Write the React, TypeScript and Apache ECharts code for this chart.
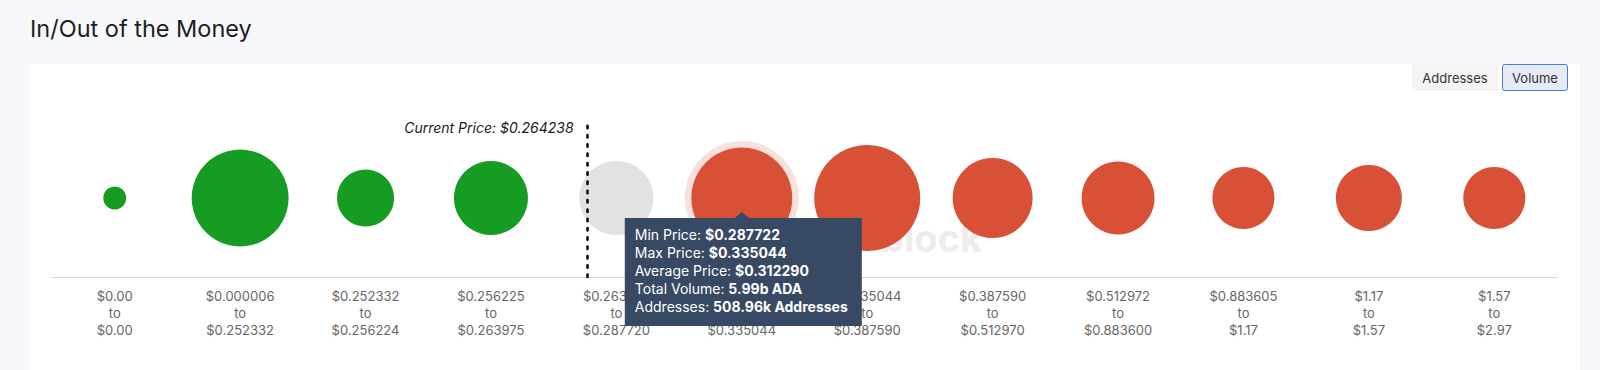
import { useEffect, useRef } from "react";
import * as echarts from "echarts";

// ---- data ----
const lowerBounds = ["$0.00", "$0.000006", "$0.252332", "$0.256225", "$0.263976", "$0.287722", "$0.335044", "$0.387590", "$0.512972", "$0.883605", "$1.17", "$1.57"];
const upperBounds = ["$0.00", "$0.252332", "$0.256224", "$0.263975", "$0.287720", "$0.335044", "$0.387590", "$0.512970", "$0.883600", "$1.17", "$1.57", "$2.97"];
// total volume per bucket, billions of ADA
const volumesB = [0.31, 5.52, 1.91, 3.22, 3.22, 5.99, 6.6, 3.76, 3.13, 2.26, 2.56, 2.26];
const moneyStatus = ["in", "in", "in", "in", "at", "out", "out", "out", "out", "out", "out", "out"];
const currentPriceLabel = "Current Price: $0.264238";
const currentPricePos = 4.27; // position along the bucket axis (bucket units)
const hoveredIndex = 5;
const hoveredMin = "$0.287722";
const hoveredMax = "$0.335044";
const hoveredAvg = "$0.312290";
const hoveredAddresses = "508.96k Addresses";
const buttons = ["Addresses", "Volume"];
const selectedButton = "Volume";
const watermark = "block";

const categories = lowerBounds.map((lo, i) => `${lo}\nto\n${upperBounds[i]}`);
const statusColor: Record<string, string> = { in: "#169b23", at: "#dbdbdb", out: "#d85036" };
const sizeOf = (v: number) => 41.27 * Math.sqrt(v);
const FONT = "Inter, 'Noto Sans', sans-serif";

export default function App() {
  const ref = useRef<HTMLDivElement>(null);
  useEffect(() => {
    if (!ref.current) return;
    const chart = echarts.init(ref.current, undefined, { renderer: "svg" });
    chart.setOption({
      animation: false,
      backgroundColor: "#f7f8fc",
      grid: { left: 52, right: 43, top: 119, bottom: 93 },
      xAxis: [
        {
          type: "category",
          data: categories,
          axisLine: { onZero: false, lineStyle: { color: "#ccd6eb", width: 1 } },
          axisTick: { show: false },
          axisLabel: { interval: 0, color: "#666666", fontSize: 13, lineHeight: 17, margin: 10, fontFamily: FONT },
          splitLine: { show: false },
          z: 1,
        },
        { type: "value", min: 0, max: 12, show: false },
      ],
      yAxis: { type: "value", min: -1, max: 1, show: false },
      series: [
        {
          type: "scatter",
          xAxisIndex: 1,
          data: [],
          z: 2,
          markLine: {
            silent: true,
            symbol: "none",
            label: { show: false },
            lineStyle: { color: "#000000", type: [2.5, 6.8], width: 2.5, cap: "round" },
            data: [{ xAxis: currentPricePos }],
          },
        },
        {
          type: "scatter",
          z: 3,
          silent: true,
          data: [[categories[hoveredIndex], 0]],
          symbolSize: sizeOf(volumesB[hoveredIndex]) + 13,
          itemStyle: { color: "rgba(216,80,54,0.22)" },
        },
        {
          type: "scatter",
          z: 4,
          data: volumesB.map((v, i) => ({
            value: [categories[i], 0, v],
            itemStyle: { color: statusColor[moneyStatus[i]], opacity: moneyStatus[i] === "at" ? 0.8 : 1 },
          })),
          symbolSize: (val: any) => sizeOf(val[2]),
        },
      ],
    });

    const cx = chart.convertToPixel({ xAxisIndex: 0 }, categories[hoveredIndex]) as number;
    const cy = chart.convertToPixel({ yAxisIndex: 0 }, 0) as number;
    const lx = chart.convertToPixel({ xAxisIndex: 1 }, currentPricePos) as number;
    const ly = chart.convertToPixel({ yAxisIndex: 0 }, 1) as number;

    const btnGeo = [
      { x: 1412, w: 86 },
      { x: 1502, w: 66 },
    ];

    chart.setOption({
      graphic: [
        { type: "rect", z: -5, silent: true, shape: { x: 29, y: 64, width: 1551, height: 320 }, style: { fill: "#ffffff" } },
        {
          type: "text", z: 0, x: 30, y: 28,
          style: { text: "In/Out of the Money", fontSize: 23.5, fontFamily: FONT, fill: "#1d1d1f", verticalAlign: "middle" },
        },
        ...buttons.map((b, i) => ({
          type: "group",
          children: [
            {
              type: "rect", z: 5,
              shape: { x: btnGeo[i].x + 0.5, y: 64.5, width: btnGeo[i].w - 1, height: 26, r: 2 },
              style: b === selectedButton
                ? { fill: "#e5eaf5", stroke: "#3f7fe4", lineWidth: 1 }
                : { fill: "#f4f4f5", stroke: "#f4f4f5", lineWidth: 1 },
            },
            {
              type: "text", z: 6,
              x: btnGeo[i].x + btnGeo[i].w / 2, y: 78,
              style: { text: b, fontSize: 13, fontFamily: FONT, fill: "#333333", align: "center", verticalAlign: "middle" },
            },
          ],
        })),
        {
          type: "text", z: 1, silent: true, x: 982, y: 238,
          style: { text: watermark, fontSize: 38, fontWeight: "bold", fontFamily: FONT, fill: "#ececec", align: "right", verticalAlign: "middle" },
        },
        {
          type: "text", z: 6, x: lx - 14, y: ly + 8,
          style: { text: currentPriceLabel, fontSize: 14, fontStyle: "italic", fontFamily: FONT, fill: "#1a1a1a", align: "right", verticalAlign: "middle" },
        },
        {
          type: "group", x: cx, y: cy + 14,
          children: [
            {
              type: "polygon", z: 20,
              shape: { points: [[0, 0], [7, 6], [120, 6], [120, 114], [-117, 114], [-117, 6], [-7, 6]] },
              style: { fill: "#374963" },
            },
            {
              type: "text", z: 21, x: -107, y: 14,
              style: {
                text: [
                  `{n|Min Price: }{b|${hoveredMin}}`,
                  `{n|Max Price: }{b|${hoveredMax}}`,
                  `{n|Average Price: }{b|${hoveredAvg}}`,
                  `{n|Total Volume: }{b|${volumesB[hoveredIndex].toFixed(2)}b ADA}`,
                  `{n|Addresses: }{b|${hoveredAddresses}}`,
                ].join("\n"),
                verticalAlign: "top",
                fontFamily: FONT,
                fontSize: 14,
                fill: "#ffffff",
                rich: {
                  n: { fontSize: 14, fontFamily: FONT, fill: "#ffffff", lineHeight: 17.8 },
                  b: { fontSize: 14, fontFamily: FONT, fill: "#ffffff", fontWeight: "bold", lineHeight: 17.8 },
                },
              },
            },
          ],
        },
      ],
    });

    return () => chart.dispose();
  }, []);
  return <div ref={ref} style={{ position: "fixed", left: 0, top: 0, width: 1600, height: 370 }} />;
}
